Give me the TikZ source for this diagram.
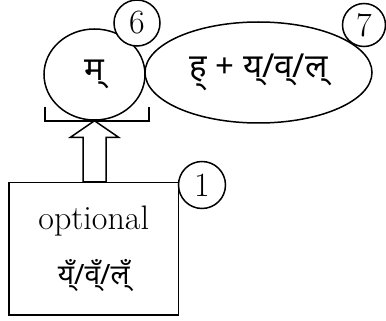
\documentclass[tikz,border=0pt]{standalone}
\usepackage{fontspec}
\newfontfamily\deva[Script=Devanagari]{Noto Sans}
\usetikzlibrary{shapes.geometric,calc}

\begin{document}
\begin{tikzpicture}[
		x=1pt,y=-1pt,
		line join=miter,
		outline/.style={draw=black, line width=1.5pt},
		bubble/.style={outline, ellipse, inner sep=0pt},
		numcircle/.style={outline, circle, fill=white, inner sep=0pt, minimum size=46pt, font=\fontsize{34}{36}\selectfont},
		optbox/.style={outline, rectangle, minimum width=169.5pt, minimum height=132.5pt, inner sep=0pt, align=center},
		devatext/.style={font=\deva\fontsize{33}{36}\selectfont},
		blockarrow/.style={outline, fill=white}
	]
	\useasboundingbox (0,0) rectangle (386,321);
	
	% Bubbles
	\node[bubble, minimum width=101pt, minimum height=91pt, devatext] (mcirc) at (94.5,74.5) {म्};
	\node[bubble, minimum width=227pt, minimum height=101pt, devatext] (hcirc) at (258.5,72.5) {ह् + य्/व्/ल्};
	
	% Optional box
	\node[optbox] (obox) at (93.75,248.75) {{\fontsize{34}{36}\selectfont optional}\\[22pt]{\deva\fontsize{28}{30}\selectfont य्ँ/व्ँ/ल्ँ}};
	
	% Bracket under the circle
	\coordinate (bl) at ($(mcirc.south)+(-49.5,0.5)$);
	\coordinate (br) at ($(mcirc.south)+(54.5,0.5)$);
	\draw[outline] ($(bl)+(0,-14.5)$) -- (bl) -- (br) -- ($(br)+(0,-14.5)$);
	
	% Hollow arrow
	\path (mcirc.south) ++(-11.5,16.5) coordinate (hl) ++(23,0) coordinate (hr);
	\draw[blockarrow] (mcirc.south) -- ++(24,16.5) -- (hr) -- (hr |- obox.north) -- (hl |- obox.north) -- (hl) -- ++(-12.5,0) -- cycle;
	
	% Numbers
	\node[numcircle] (n6) at (137,23) {6};
	\node[numcircle, minimum size=43pt] (n7) at (364,25) {7};
	\node[numcircle, minimum size=47pt] (n1) at (202,185) {1};
	
\end{tikzpicture}
\end{document}
